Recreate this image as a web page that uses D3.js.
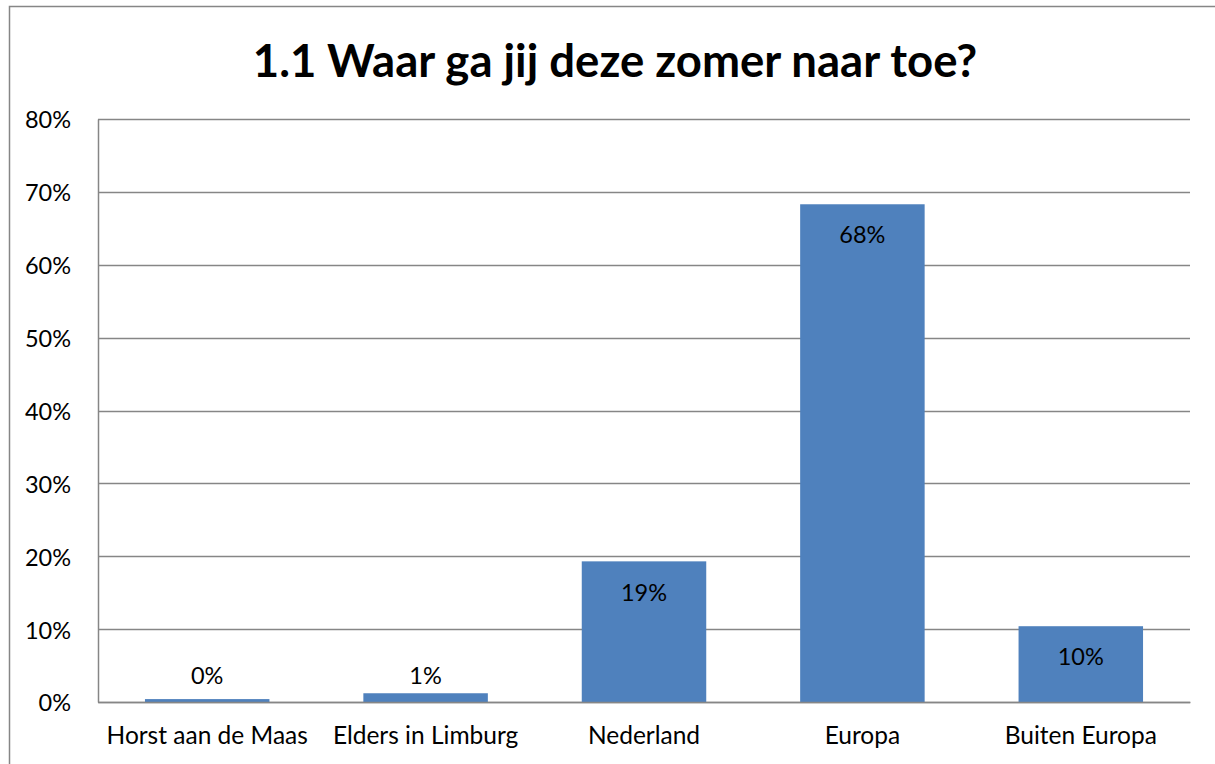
<!DOCTYPE html>
<html><head><meta charset="utf-8">
<script src="https://cdn.jsdelivr.net/npm/d3@7"></script>
<style>body{margin:0;background:#fff}svg{display:block}text{font-family:Lato,"Open Sans",sans-serif;fill:#000}</style>
</head><body>
<script>
const categories = ["Horst aan de Maas","Elders in Limburg","Nederland","Europa","Buiten Europa"];
const values = [0.004, 0.012, 0.193, 0.683, 0.104];
const yTicks = [0,0.1,0.2,0.3,0.4,0.5,0.6,0.7,0.8];
const title = "1.1 Waar ga jij deze zomer naar toe?";

const W=1215,H=764;
const svg=d3.select("body").append("svg").attr("width",W).attr("height",H);
svg.append("rect").attr("x",9.5).attr("y",6.5).attr("width",1220).attr("height",800)
  .attr("fill","#fff").attr("stroke","#868686").attr("stroke-width",1.5);

const m={l:98,r:1190,t:119,b:702};
const x=d3.scaleBand().domain(categories).range([m.l,m.r]).paddingInner(0.43).paddingOuter(0.215);
const y=d3.scaleLinear().domain([0,0.8]).range([m.b,m.t]);
const fs="23.5px";

svg.append("g").selectAll("line").data(yTicks).join("line")
  .attr("x1",m.l).attr("x2",m.r).attr("y1",d=>Math.round(y(d))+0.5).attr("y2",d=>Math.round(y(d))+0.5)
  .attr("stroke","#868686").attr("stroke-width",1.5);

const ya=svg.append("g").attr("transform",`translate(${m.l},0)`)
  .call(d3.axisLeft(y).tickValues(yTicks).tickFormat(d3.format(".0%")).tickSize(0).tickPadding(27));
ya.select(".domain").attr("stroke","#868686").attr("stroke-width",1.5);
ya.selectAll("text").style("font-size",fs).style("font-family","Lato").attr("dy","0.38em");

svg.append("g").selectAll("rect").data(values).join("rect")
  .attr("x",(d,i)=>x(categories[i])).attr("width",x.bandwidth())
  .attr("y",d=>y(d)).attr("height",d=>y(0)-y(d)).attr("fill","#4F81BD");

const xa=svg.append("g").attr("transform",`translate(0,${m.b})`)
  .call(d3.axisBottom(x).tickSize(0).tickPadding(25));
xa.select(".domain").attr("stroke","#868686").attr("stroke-width",1.5);
xa.selectAll("text").style("font-size","24.5px").style("font-family","Lato");

svg.append("g").selectAll("text").data(values).join("text")
  .attr("x",(d,i)=>x(categories[i])+x.bandwidth()/2)
  .attr("y",d=>(y(0)-y(d) > 45) ? y(d)+31 : y(0)-26)
  .attr("dy","0.35em").attr("text-anchor","middle").style("font-size",fs)
  .text(d=>d3.format(".0%")(d));

svg.append("text").attr("x",615).attr("y",77).attr("text-anchor","middle")
  .style("font-size","45.5px").style("font-weight","bold").text(title);
</script>
</body></html>
